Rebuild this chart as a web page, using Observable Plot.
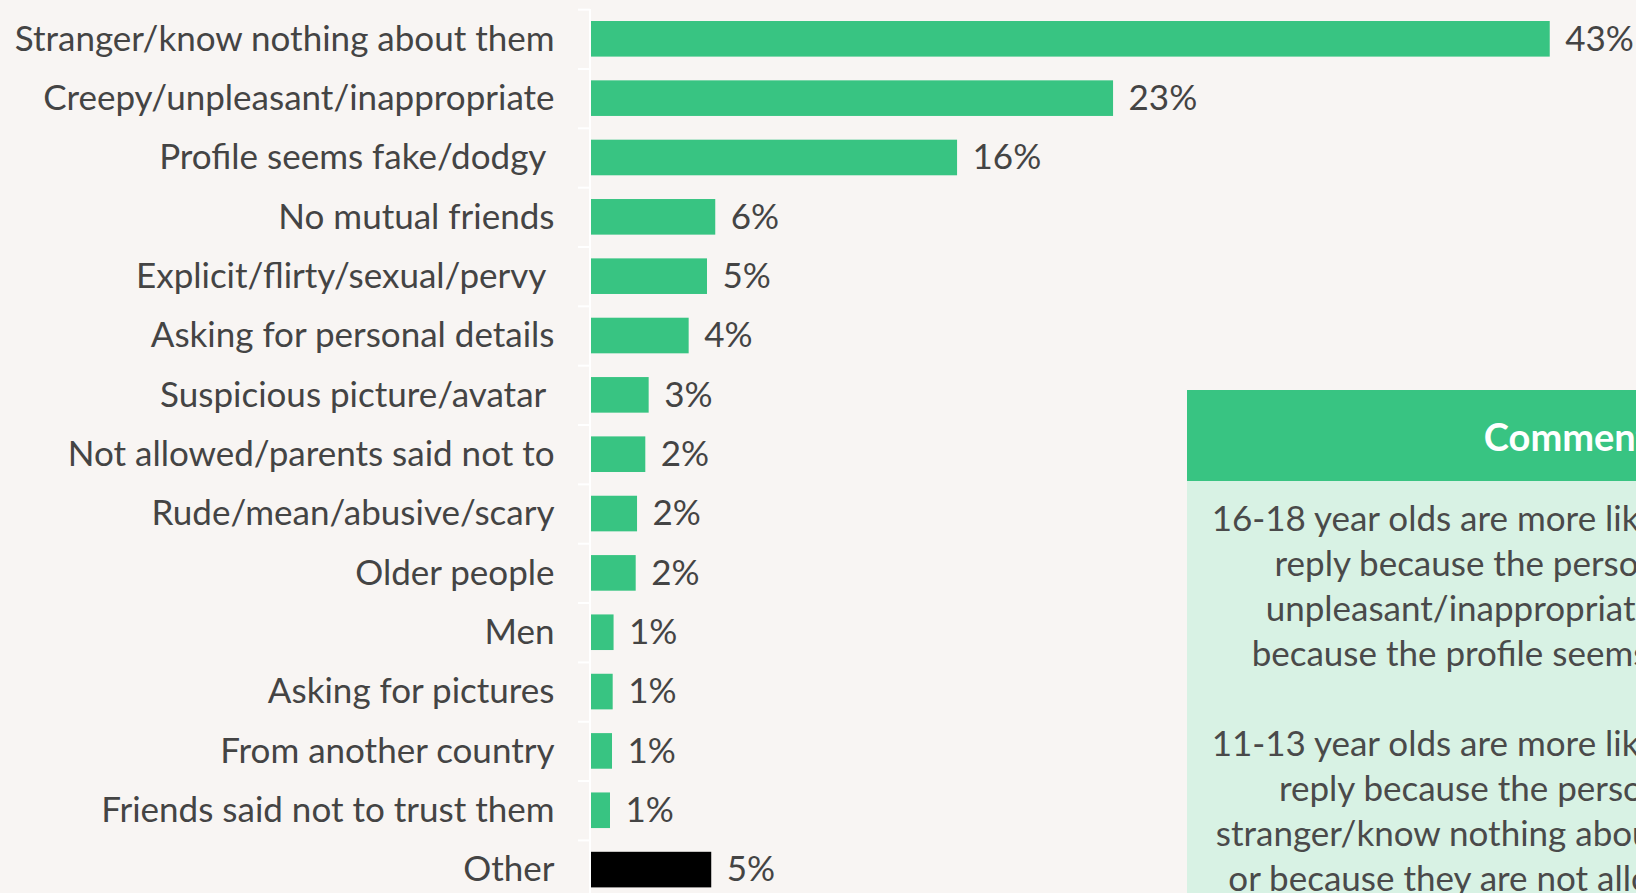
<!DOCTYPE html>
<html>
<head>
<meta charset="utf-8">
<script src="https://cdn.jsdelivr.net/npm/d3@7"></script>
<script src="https://cdn.jsdelivr.net/npm/@observablehq/plot@0.6"></script>
<style>
  html, body { margin: 0; padding: 0; background: #F8F5F3; overflow: hidden; }
  #wrap { position: relative; width: 1636px; height: 893px; overflow: hidden; background: #F8F5F3; }
  #chart svg text { white-space: pre; }
  #box { position: absolute; left: 1187px; top: 390px; width: 813px; font-family: Lato, sans-serif; }
  #box .hd { background: #38C482; height: 91px; color: #fff; font-weight: bold; font-size: 38px;
             display: flex; align-items: center; justify-content: center; }
  #box .bd { background: #D8F2E4; padding-top: 14px; height: 520px; color: #4a4a4a; font-size: 35px;
             line-height: 45px; text-align: center; white-space: nowrap; }
</style>
</head>
<body>
<div id="wrap">
  <div id="chart"></div>
  <div id="box">
    <div class="hd">Commentary</div>
    <div class="bd" id="bd"></div>
  </div>
</div>
<script>
// ---- data ----
const categories = [
  "Stranger/know nothing about them",
  "Creepy/unpleasant/inappropriate",
  "Profile seems fake/dodgy ",
  "No mutual friends",
  "Explicit/flirty/sexual/pervy ",
  "Asking for personal details",
  "Suspicious picture/avatar ",
  "Not allowed/parents said not to",
  "Rude/mean/abusive/scary",
  "Older people",
  "Men",
  "Asking for pictures",
  "From another country",
  "Friends said not to trust them",
  "Other"
];
const values = [42.9, 23.36, 16.38, 5.56, 5.19, 4.37, 2.58, 2.43, 2.06, 2.0, 1.01, 0.97, 0.94, 0.85, 5.38];
const highlightCategory = "Other";
const commentaryTitle = "Commentary";
const commentaryLines = [
  "16-18 year olds are more likely to say they did not",
  "reply because the person seemed creepy/",
  "unpleasant/inappropriate to them (29%) or",
  "because the profile seems fake/dodgy (21%).",
  "",
  "11-13 year olds are more likely to say they did not",
  "reply because the person was a complete",
  "stranger/know nothing about them at all (c. 49%),",
  "or because they are not allowed/parents said so",
  "(4%)."
];

const data = categories.map((c, i) => ({category: c, value: values[i], label: Math.round(values[i]) + "%"}));

// ---- layout ----
const W = 1636, H = 893;
const mTop = 21, mBottom = 5.6, mLeft = 591;
const padInner = 0.4;
const step = (H - mTop - mBottom) / (categories.length - padInner);
const green = "#38C482";
const textColor = "#444444";

const chart = Plot.plot({
  width: W,
  height: H,
  marginLeft: mLeft,
  marginRight: 0,
  marginTop: mTop,
  marginBottom: mBottom,
  style: {fontFamily: "Lato, sans-serif", fontSize: "35px", color: textColor, background: "#F8F5F3", overflow: "visible"},
  x: {domain: [0, 46.76], axis: null},
  y: {domain: categories, paddingInner: padInner, paddingOuter: 0, round: false, axis: null},
  marks: [
    Plot.barX(data, {x: "value", y: "category", fill: d => d.category === highlightCategory ? "#000000" : green}),
    Plot.ruleX([0], {stroke: "#ffffff", strokeWidth: 2, dx: -1.5, insetTop: -12, insetBottom: -8}),
    Plot.ruleY(categories, {y: d => d, x1: 0, x2: 0, insetLeft: -13, insetRight: 1, dy: -step / 2, stroke: "#ffffff", strokeWidth: 2}),
    Plot.axisY({tickSize: 0, tickPadding: 37, label: null, fontSize: 35, fill: textColor}),
    Plot.text(data, {x: "value", y: "category", text: "label", textAnchor: "start", dx: 15, fontSize: 35, fill: textColor})
  ]
});
document.getElementById("chart").appendChild(chart);

const bd = document.getElementById("bd");
document.querySelector("#box .hd").textContent = commentaryTitle;
commentaryLines.forEach(l => {
  const div = document.createElement("div");
  if (l === "") div.innerHTML = "&nbsp;"; else div.textContent = l;
  bd.appendChild(div);
});
</script>
</body>
</html>
